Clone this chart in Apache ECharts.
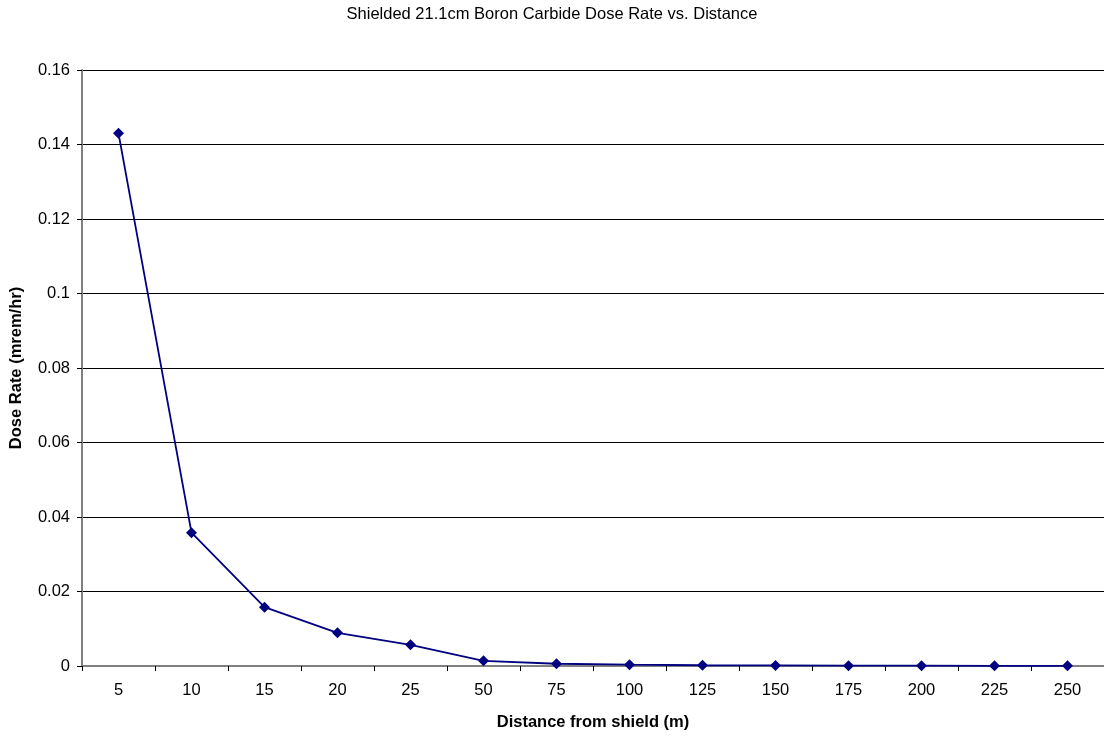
<!DOCTYPE html>
<html>
<head>
<meta charset="utf-8">
<script src="https://cdn.jsdelivr.net/npm/echarts@6/dist/echarts.min.js"></script>
<style>
  html, body { margin: 0; padding: 0; background: #fff; }
  #chart { width: 1104px; height: 736px; }
</style>
</head>
<body>
<div id="chart"></div>
<script>
// Distance from the shield (m) and measured dose rate (mrem/hr)
const distances = ['5', '10', '15', '20', '25', '50', '75', '100', '125', '150', '175', '200', '225', '250'];
const doseRates = [0.143, 0.0358, 0.0158, 0.0089, 0.0057, 0.0014, 0.0006, 0.00035, 0.0002, 0.00015, 0.0001, 0.00008, 0.00006, 0.00005];
const yTicks = { min: 0, max: 0.16, interval: 0.02 };

const chart = echarts.init(document.getElementById('chart'));
const font = 'Liberation Sans, Arial, sans-serif';
const fs = 16.5;

chart.setOption({
  animation: false,
  title: {
    text: 'Shielded 21.1cm Boron Carbide Dose Rate vs. Distance',
    left: 'center',
    top: 1,
    textStyle: { fontFamily: font, fontSize: fs, fontWeight: 'normal', color: '#000' }
  },
  grid: { left: 81, right: -5, top: 70, bottom: 63 },
  xAxis: {
    type: 'category',
    data: distances,
    boundaryGap: true,
    name: 'Distance from shield (m)',
    nameLocation: 'middle',
    nameGap: 48,
    nameTextStyle: { fontFamily: font, fontSize: fs, fontWeight: 'bold', color: '#000' },
    axisLine: { lineStyle: { color: '#808080', width: 2 } },
    axisTick: { show: true, length: 5, lineStyle: { color: '#000' } },
    axisLabel: { fontFamily: font, fontSize: fs, color: '#000', margin: 16 },
    splitLine: { show: false }
  },
  yAxis: {
    type: 'value',
    min: yTicks.min,
    max: yTicks.max,
    interval: yTicks.interval,
    name: 'Dose Rate (mrem/hr)',
    nameLocation: 'middle',
    nameGap: 57,
    nameTextStyle: { fontFamily: font, fontSize: fs, fontWeight: 'bold', color: '#000' },
    axisLine: { show: true, lineStyle: { color: '#808080', width: 2 } },
    axisTick: { show: true, length: 5, lineStyle: { color: '#000' } },
    axisLabel: {
      fontFamily: font, fontSize: fs, color: '#000', margin: 12,
      formatter: v => String(+v.toFixed(2))
    },
    splitLine: { show: true, lineStyle: { color: '#000', width: 1 } }
  },
  series: [{
    type: 'line',
    data: doseRates,
    symbol: 'diamond',
    symbolSize: 11,
    itemStyle: { color: '#000080' },
    lineStyle: { color: '#000080', width: 1.8 }
  }]
});
</script>
</body>
</html>
